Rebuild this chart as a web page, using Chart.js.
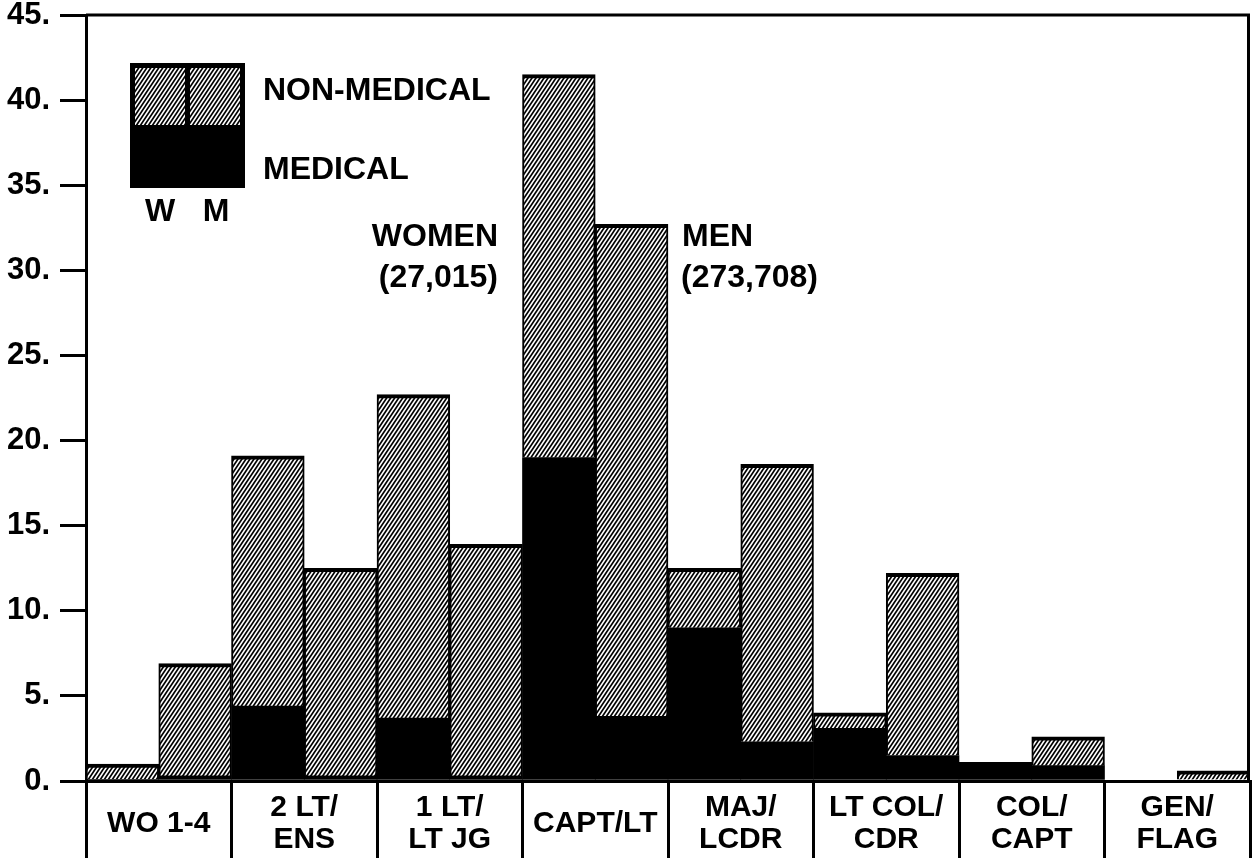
<!DOCTYPE html>
<html>
<head>
<meta charset="utf-8">
<script src="https://cdn.jsdelivr.net/npm/chart.js@4.4.0/dist/chart.umd.min.js"></script>
<style>
  html, body { margin: 0; padding: 0; background: #fff; overflow: hidden; }
  #wrap { width: 1255px; height: 858px; }
</style>
</head>
<body>
<div id="wrap"><canvas id="chart" width="1255" height="858"></canvas></div>
<script>
// grade groups (x axis)
const categories = [
    ['WO 1-4'], ['2 LT/', 'ENS'], ['1 LT/', 'LT JG'], ['CAPT/LT'],
    ['MAJ/', 'LCDR'], ['LT COL/', 'CDR'], ['COL/', 'CAPT'], ['GEN/', 'FLAG']
];

// percent of women / men, split into medical and non-medical parts
const womenMedical    = [0.1, 4.4, 3.7, 19.0, 9.0, 3.1, 1.1, 0];
const womenNonMedical = [0.9, 14.7, 19.0, 22.5, 3.5, 0.9, 0, 0];
const menMedical      = [0.3, 0.3, 0.3, 3.8, 2.3, 1.5, 0.9, 0];
const menNonMedical   = [6.6, 12.2, 13.6, 28.9, 16.3, 10.7, 1.7, 0.6];

const yTickValues = [0, 5, 10, 15, 20, 25, 30, 35, 40, 45];

const FONT = "'Liberation Sans', Arial, sans-serif";

// diagonal hatch used for the non-medical parts
function makeHatch() {
    const c = document.createElement('canvas');
    c.width = 4;
    c.height = 6;
    const g = c.getContext('2d');
    g.fillStyle = '#fff';
    g.fillRect(0, 0, 4, 6);
    g.strokeStyle = '#000';
    g.lineWidth = 1.7;
    g.beginPath();
    g.moveTo(-1, 7.5); g.lineTo(5, -1.5);
    g.moveTo(-5, 7.5); g.lineTo(1, -1.5);
    g.moveTo(3, 7.5); g.lineTo(9, -1.5);
    g.stroke();
    return g.createPattern(c, 'repeat');
}
const hatch = makeHatch();

const hatchBorder = { top: 4, left: 2, right: 2, bottom: 0 };

// frame (top + right), legend and the WOMEN / MEN notes
const decorations = {
    id: 'decorations',
    afterDraw(chart) {
        const ctx = chart.ctx;
        const a = chart.chartArea;
        ctx.save();
        ctx.strokeStyle = '#000';
        ctx.lineWidth = 3;
        ctx.beginPath();
        ctx.moveTo(a.left, a.top);
        ctx.lineTo(a.right - 1.5, a.top);
        ctx.lineTo(a.right - 1.5, a.bottom);
        ctx.stroke();

        // legend key
        ctx.fillStyle = '#000';
        ctx.fillRect(130, 63, 115, 125);
        ctx.fillStyle = hatch;
        ctx.fillRect(135, 68, 50, 57);
        ctx.fillRect(190, 68, 50, 57);

        ctx.fillStyle = '#000';
        ctx.font = 'bold 32px ' + FONT;
        ctx.textBaseline = 'middle';
        ctx.textAlign = 'left';
        ctx.fillText('NON-MEDICAL', 263, 91);
        ctx.fillText('MEDICAL', 263, 170);
        ctx.textAlign = 'center';
        ctx.fillText('W', 160, 212);
        ctx.fillText('M', 216, 212);

        ctx.textAlign = 'right';
        ctx.fillText('WOMEN', 498, 237);
        ctx.fillText('(27,015)', 498, 278);
        ctx.textAlign = 'left';
        ctx.fillText('MEN', 682, 237);
        ctx.fillText('(273,708)', 681, 278);
        ctx.restore();
    }
};

new Chart(document.getElementById('chart'), {
    type: 'bar',
    data: {
        labels: categories,
        datasets: [
            { label: 'Women medical', data: womenMedical, stack: 'W', backgroundColor: '#000', borderWidth: 0 },
            { label: 'Women non-medical', data: womenNonMedical, stack: 'W', backgroundColor: hatch, borderColor: '#000', borderWidth: hatchBorder, borderSkipped: false },
            { label: 'Men medical', data: menMedical, stack: 'M', backgroundColor: '#000', borderWidth: 0 },
            { label: 'Men non-medical', data: menNonMedical, stack: 'M', backgroundColor: hatch, borderColor: '#000', borderWidth: hatchBorder, borderSkipped: false }
        ]
    },
    options: {
        responsive: false,
        devicePixelRatio: 1,
        animation: false,
        categoryPercentage: 1,
        barPercentage: 1,
        layout: { padding: { top: 15, right: 5, left: 0, bottom: 0 } },
        plugins: {
            legend: { display: false },
            tooltip: { enabled: false }
        },
        scales: {
            x: {
                stacked: true,
                ticks: {
                    color: '#000',
                    font: { family: FONT, size: 30, weight: 'bold', lineHeight: 1.05 },
                    padding: -50,
                    crossAlign: 'center',
                    maxRotation: 0,
                    autoSkip: false
                },
                grid: {
                    offset: true, drawOnChartArea: false, drawTicks: true,
                    tickLength: 77, tickWidth: 3, tickColor: '#000', color: '#000', lineWidth: 3
                },
                border: { display: true, color: '#000', width: 3 },
                afterFit(scale) { scale.height = 77; }
            },
            y: {
                stacked: true,
                min: 0,
                max: 45,
                afterBuildTicks(scale) { scale.ticks = yTickValues.map(v => ({ value: v })); },
                ticks: {
                    color: '#000',
                    font: { family: FONT, size: 31, weight: 'bold' },
                    padding: 10,
                    callback: v => v + '.'
                },
                grid: {
                    drawOnChartArea: false, drawTicks: true,
                    tickLength: 26, tickWidth: 3, tickColor: '#000', color: '#000', lineWidth: 3
                },
                border: { display: true, color: '#000', width: 3 },
                afterFit(scale) {
                    scale.width = 86;
                    scale.paddingTop = 0;
                    scale.paddingBottom = 0;
                }
            }
        }
    },
    plugins: [decorations]
});
</script>
</body>
</html>
